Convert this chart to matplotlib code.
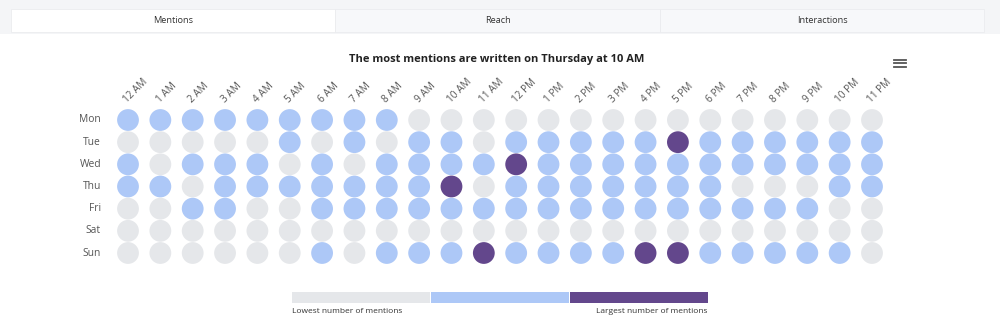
import matplotlib
matplotlib.use("Agg")
import matplotlib.pyplot as plt
from matplotlib.patches import Rectangle
from matplotlib.lines import Line2D
from matplotlib.colors import ListedColormap, BoundaryNorm
from matplotlib.transforms import ScaledTranslation

plt.rcParams["font.family"] = ["Open Sans", "DejaVu Sans"]

# Hours of the day (columns) and weekdays (rows)
hours = ["12 AM", "1 AM", "2 AM", "3 AM", "4 AM", "5 AM", "6 AM", "7 AM",
         "8 AM", "9 AM", "10 AM", "11 AM", "12 PM", "1 PM", "2 PM", "3 PM",
         "4 PM", "5 PM", "6 PM", "7 PM", "8 PM", "9 PM", "10 PM", "11 PM"]
days = ["Mon", "Tue", "Wed", "Thu", "Fri", "Sat", "Sun"]

# Mention level per hour: 0 = lowest, 1 = medium, 2 = largest
mon = [1, 1, 1, 1, 1, 1, 1, 1, 1, 0, 0, 0, 0, 0, 0, 0, 0, 0, 0, 0, 0, 0, 0, 0]
tue = [0, 0, 0, 0, 0, 1, 0, 1, 0, 1, 1, 0, 1, 1, 1, 1, 1, 2, 1, 1, 1, 1, 1, 1]
wed = [1, 0, 1, 1, 1, 0, 1, 0, 1, 1, 1, 1, 2, 1, 1, 1, 1, 1, 1, 1, 1, 1, 1, 1]
thu = [1, 1, 0, 1, 1, 1, 1, 1, 1, 1, 2, 0, 1, 1, 1, 1, 1, 1, 1, 0, 0, 0, 1, 1]
fri = [0, 0, 1, 1, 0, 0, 1, 1, 1, 1, 1, 1, 1, 1, 1, 1, 1, 1, 1, 1, 1, 1, 0, 0]
sat = [0, 0, 0, 0, 0, 0, 0, 0, 0, 0, 0, 0, 0, 0, 0, 0, 0, 0, 0, 0, 0, 0, 0, 0]
sun = [0, 0, 0, 0, 0, 0, 1, 0, 1, 1, 1, 2, 1, 1, 1, 1, 2, 2, 1, 1, 1, 1, 1, 0]
levels = [mon, tue, wed, thu, fri, sat, sun]

tabs = ["Mentions", "Reach", "Interactions"]
title = "The most mentions are written on Thursday at 10 AM"
legend_low = "Lowest number of mentions"
legend_high = "Largest number of mentions"

level_colors = ["#e5e7ea", "#adc8f7", "#63478c"]
cmap = ListedColormap(level_colors)
norm = BoundaryNorm([-0.5, 0.5, 1.5, 2.5], cmap.N)

W, H = 1000, 325
fig = plt.figure(figsize=(W / 100, H / 100), dpi=100)
fig.patch.set_facecolor("white")
renderer = fig.canvas.get_renderer()


def fx(px):
    return px / W


def fy(py):
    return 1 - py / H


def fit_width(txt, target_px):
    """Scale a text's font size so that it spans target_px pixels."""
    w = txt.get_window_extent(renderer).width
    txt.set_fontsize(txt.get_fontsize() * target_px / w)


# Tab strip
fig.patches.append(Rectangle((0, fy(34)), 1, 34 / H, transform=fig.transFigure,
                             facecolor="#f4f5f7", edgecolor="none", zorder=0))
tab_edges = [11, 335, 660, 984]
for i, name in enumerate(tabs):
    x0, x1 = tab_edges[i], tab_edges[i + 1]
    fc = "white" if i == 0 else "#f7f8fa"
    fig.patches.append(Rectangle((fx(x0), fy(32)), fx(x1 - x0), 23 / H,
                                 transform=fig.transFigure, facecolor=fc,
                                 edgecolor="#ebecef", linewidth=0.6, zorder=1))
    fig.text(fx((x0 + x1) / 2), fy(20.5), name, ha="center", va="center",
             fontsize=6.6, color="#333333")

# Title and menu icon
t = fig.text(fx(497), fy(59.5), title, ha="center", va="center", fontsize=9,
             fontweight="bold", color="#222222")
fit_width(t, 296)
for yy in (59.5, 63, 66.5):
    fig.lines.append(Line2D([fx(894), fx(906)], [fy(yy), fy(yy)],
                            transform=fig.transFigure, color="#555555",
                            linewidth=1.3))

# Dot grid
col_step = (872 - 128) / 23
row_step = (253 - 120) / 6
left = 128 - col_step / 2
top = 120 - row_step / 2
ax = fig.add_axes([fx(left), fy(top + 7 * row_step), fx(24 * col_step),
                   7 * row_step / H])
ax.set_xlim(-0.5, 23.5)
ax.set_ylim(6.5, -0.5)
ax.axis("off")

xs, ys, cs = [], [], []
for r, row in enumerate(levels):
    for c, v in enumerate(row):
        xs.append(c)
        ys.append(r)
        cs.append(v)
dot_pt = 21.8 * 72 / 100
ax.scatter(xs, ys, c=cs, cmap=cmap, norm=norm, s=dot_pt ** 2,
           linewidths=0, clip_on=False)

label_shift = ScaledTranslation(0, 4 / 100, fig.dpi_scale_trans)
for c, lab in enumerate(hours):
    ax.text(c + 0.05, -0.5, lab, rotation=45, rotation_mode="anchor",
            ha="left", va="bottom", fontsize=7.2, color="#555555",
            transform=ax.transData + label_shift)
for r, d in enumerate(days):
    fig.text(fx(101), fy(120 + r * row_step), d, ha="right", va="center",
             fontsize=7.4, color="#555555")

# Legend bar
segs = [(292, 430), (431, 569), (570, 708)]
for (x0, x1), col in zip(segs, level_colors):
    fig.patches.append(Rectangle((fx(x0), fy(303)), fx(x1 - x0), 11 / H,
                                 transform=fig.transFigure, facecolor=col,
                                 edgecolor="none"))
lo = fig.text(fx(292), fy(311.5), legend_low, ha="left", va="center",
              fontsize=6.5, color="#333333")
hi = fig.text(fx(708), fy(311.5), legend_high, ha="right", va="center",
              fontsize=6.5, color="#333333")
fit_width(lo, 109)
fit_width(hi, 110)

fig.savefig("out.png", dpi=100, facecolor="white")
